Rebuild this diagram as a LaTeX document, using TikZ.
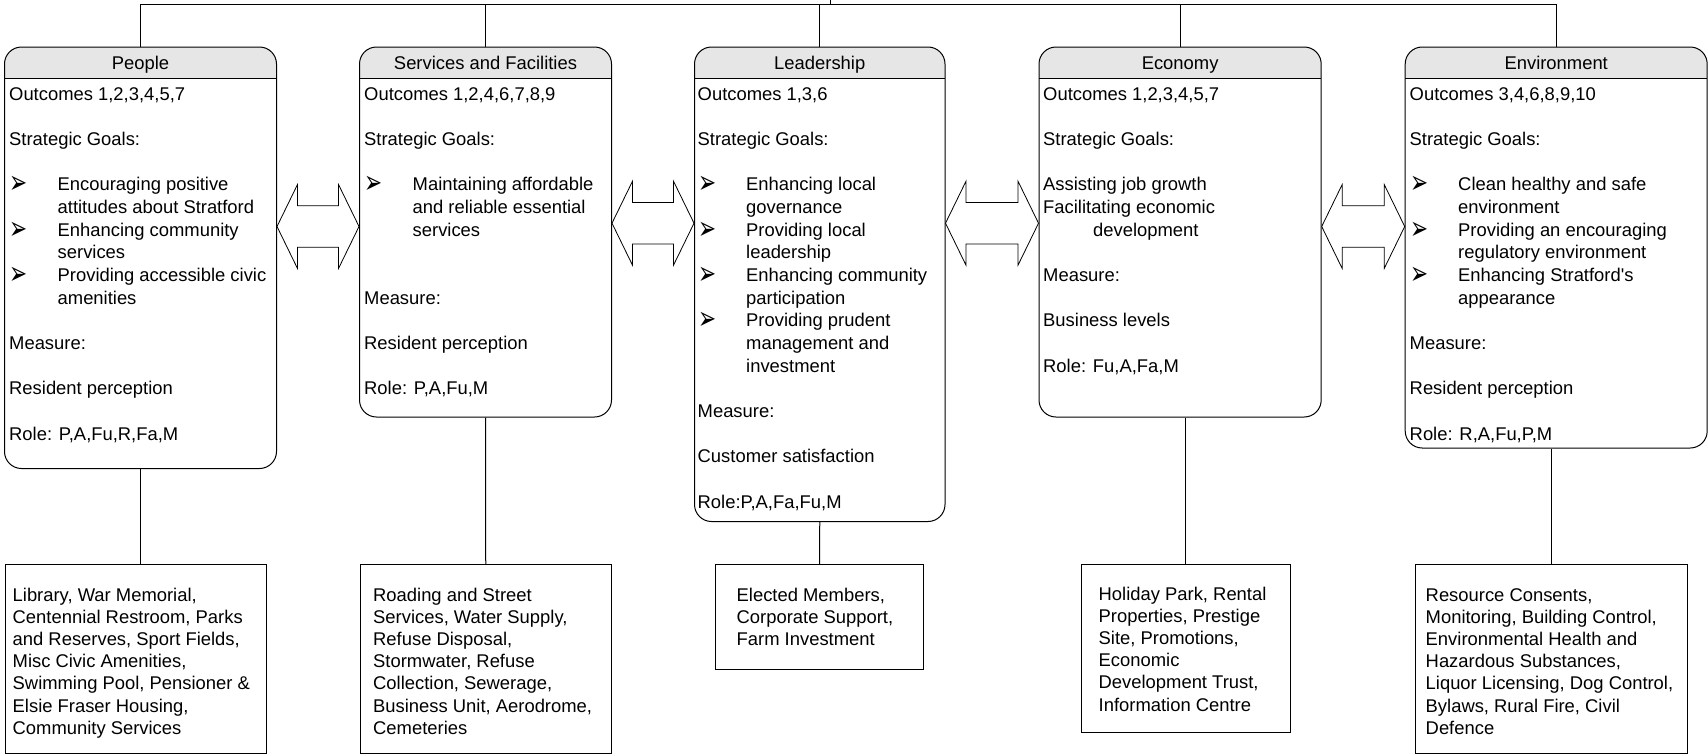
\documentclass[tikz,border=0pt]{standalone}
\usepackage{fontspec}
\usepackage{graphicx}
\setmainfont{Liberation Sans}
\newfontfamily\dejavu{DejaVu Sans}
\usetikzlibrary{calc}
\definecolor{hdrgray}{HTML}{E6E6E6}
\newcommand{\bulit}[1]{\makebox[48.5pt][l]{\hspace*{0.5pt}\raisebox{-3pt}{\scalebox{1.2}[1.8]{\dejavu\fontsize{18}{18}\selectfont ➢}}}#1}
\newcommand{\indt}[1]{\hspace*{48.5pt}#1}
\newcommand{\bodyfont}{\fontsize{18.4}{22}\selectfont}
\newcommand{\boxlines}[5]{\foreach \myline [count=\i from 0] in {#5} {\node[txt] (#1-\i) at (#2,{#3+\i*#4}) {\myline};}}
\newcommand{\dblarrow}[4]{%
  \coordinate (#1-L) at (#2.east |- #4);
  \coordinate (#1-R) at (#3.west |- #4);
  \draw[blk] (#1-L) -- ++(20.5,-42) -- ++(0,21.2) -- ($(#1-R)+(-20.5,-20.8)$) -- ++(0,-21.2) -- (#1-R) -- ++(-20.5,42) -- ++(0,-21.2) -- ($(#1-L)+(20.5,20.8)$) -- ++(0,21.2) -- cycle;}
\tikzset{
  txt/.style={anchor=base west, inner sep=0pt, font=\bodyfont},
  hdr/.style={anchor=base, inner sep=0pt, font=\bodyfont},
  tbox/.style={draw, line width=1pt, rounded corners=17pt, anchor=north west, inner sep=0pt,
    path picture={\fill[hdrgray, sharp corners] (path picture bounding box.north west) rectangle ([yshift=-31pt]path picture bounding box.north east);
      \draw[line width=1pt, sharp corners] ([yshift=-31pt]path picture bounding box.north west) -- ([yshift=-31pt]path picture bounding box.north east);}},
  bbox/.style={draw, line width=1pt, anchor=north west, inner sep=0pt},
  conn/.style={draw, line width=1pt},
  blk/.style={draw, line width=0.8pt, fill=white, line join=miter}
}
\begin{document}
\begin{tikzpicture}[x=1pt, y=-1pt]
\useasboundingbox (0,0) rectangle (1708,755);
% top boxes
\node[tbox, minimum width=272pt, minimum height=421.5pt] (pT) at (4,46.5) {};
\node[tbox, minimum width=252pt, minimum height=370pt] (sT) at (359,46.5) {};
\node[tbox, minimum width=250.5pt, minimum height=474.5pt] (lT) at (694,46.5) {};
\node[tbox, minimum width=282.2pt, minimum height=370pt] (ecT) at (1038.5,46.5) {};
\node[tbox, minimum width=302pt, minimum height=401pt] (enT) at (1404.7,46.5) {};
% bottom boxes
\node[bbox, minimum width=261pt, minimum height=188.5pt] (pB) at (4.5,564) {};
\node[bbox, minimum width=250.5pt, minimum height=188.5pt] (sB) at (360,564) {};
\node[bbox, minimum width=208.3pt, minimum height=105pt] (lB) at (715,564) {};
\node[bbox, minimum width=209.5pt, minimum height=168pt] (ecB) at (1080.5,564) {};
\node[bbox, minimum width=271.7pt, minimum height=188.5pt] (enB) at (1415,564) {};
% headers
\coordinate (hy) at (0,69.5);
\node[hdr] (pT-h) at (pT.north |- hy) {People};
\node[hdr] (sT-h) at (sT.north |- hy) {Services and Facilities};
\node[hdr] (lT-h) at (lT.north |- hy) {Leadership};
\node[hdr] (ecT-h) at (ecT.north |- hy) {Economy};
\node[hdr] (enT-h) at (enT.north |- hy) {Environment};
% top connectors
\coordinate (root) at (830,0);
\coordinate (bus) at (830,4.7);
\draw[conn] (root) -- (bus);
\draw[conn] (pT.north) |- (bus) -| (enT.north);
\draw[conn] (sT.north) -- (sT.north |- bus);
\draw[conn] (lT.north) -- (lT.north |- bus);
\draw[conn] (ecT.north) -- (ecT.north |- bus);
% bottom connectors
\draw[conn] (pT.south) -- (pT.south |- pB.north);
\draw[conn] (sT.south) -- (sB.north);
\draw[conn] (lT.south) -- (lB.north);
\draw[conn] (ecB.north |- ecT.south) -- (ecB.north);
\draw[conn] (enB.north |- enT.south) -- (enB.north);
% double arrows
\coordinate (ya) at (0,226.5);
\coordinate (yb) at (0,223.2);
\dblarrow{a1}{pT}{sT}{ya}
\dblarrow{a2}{sT}{lT}{yb}
\dblarrow{a3}{lT}{ecT}{yb}
\dblarrow{a4}{ecT}{enT}{ya}
% body text
\boxlines{pt}{9}{100}{22.67}{{Outcomes 1,2,3,4,5,7},{},{Strategic Goals:},{},{\bulit{Encouraging positive}},{\indt{attitudes about Stratford}},{\bulit{Enhancing community}},{\indt{services}},{\bulit{Providing accessible civic}},{\indt{amenities}},{},{Measure:},{},{Resident perception},{},{Role: P,A,Fu,R,Fa,M}}
\boxlines{st}{364}{100}{22.67}{{Outcomes 1,2,4,6,7,8,9},{},{Strategic Goals:},{},{\bulit{Maintaining affordable}},{\indt{and reliable essential}},{\indt{services}},{},{},{Measure:},{},{Resident perception},{},{Role: P,A,Fu,M}}
\boxlines{lt}{697.5}{100}{22.67}{{Outcomes 1,3,6},{},{Strategic Goals:},{},{\bulit{Enhancing local}},{\indt{governance}},{\bulit{Providing local}},{\indt{leadership}},{\bulit{Enhancing community}},{\indt{participation}},{\bulit{Providing prudent}},{\indt{management and}},{\indt{investment}},{},{Measure:},{},{Customer satisfaction},{},{Role:P,A,Fa,Fu,M}}
\boxlines{ect}{1043}{100}{22.67}{{Outcomes 1,2,3,4,5,7},{},{Strategic Goals:},{},{Assisting job growth},{Facilitating economic},{\hspace*{50pt}development},{},{Measure:},{},{Business levels},{},{Role: Fu,A,Fa,M}}
\boxlines{ent}{1409.5}{100}{22.67}{{Outcomes 3,4,6,8,9,10},{},{Strategic Goals:},{},{\bulit{Clean healthy and safe}},{\indt{environment}},{\bulit{Providing an encouraging}},{\indt{regulatory environment}},{\bulit{Enhancing Stratford\textquotesingle s}},{\indt{appearance}},{},{Measure:},{},{Resident perception},{},{Role: R,A,Fu,P,M}}
% bottom text
\boxlines{pb}{12.5}{601}{22.2}{{Library, War Memorial,},{Centennial Restroom, Parks},{and Reserves, Sport Fields,},{Misc Civic Amenities,},{Swimming Pool, Pensioner \&},{Elsie Fraser Housing,},{Community Services}}
\boxlines{sb}{373}{601}{22.2}{{Roading and Street},{Services, Water Supply,},{Refuse Disposal,},{Stormwater, Refuse},{Collection, Sewerage,},{Business Unit, Aerodrome,},{Cemeteries}}
\boxlines{lb}{736.5}{601}{22.2}{{Elected Members,},{Corporate Support,},{Farm Investment}}
\boxlines{ecb}{1098.5}{600}{22.2}{{Holiday Park, Rental},{Properties, Prestige},{Site, Promotions,},{Economic},{Development Trust,},{Information Centre}}
\boxlines{enb}{1425.5}{601}{22.2}{{Resource Consents,},{Monitoring, Building Control,},{Environmental Health and},{Hazardous Substances,},{Liquor Licensing, Dog Control,},{Bylaws, Rural Fire, Civil},{Defence}}
\end{tikzpicture}
\end{document}
